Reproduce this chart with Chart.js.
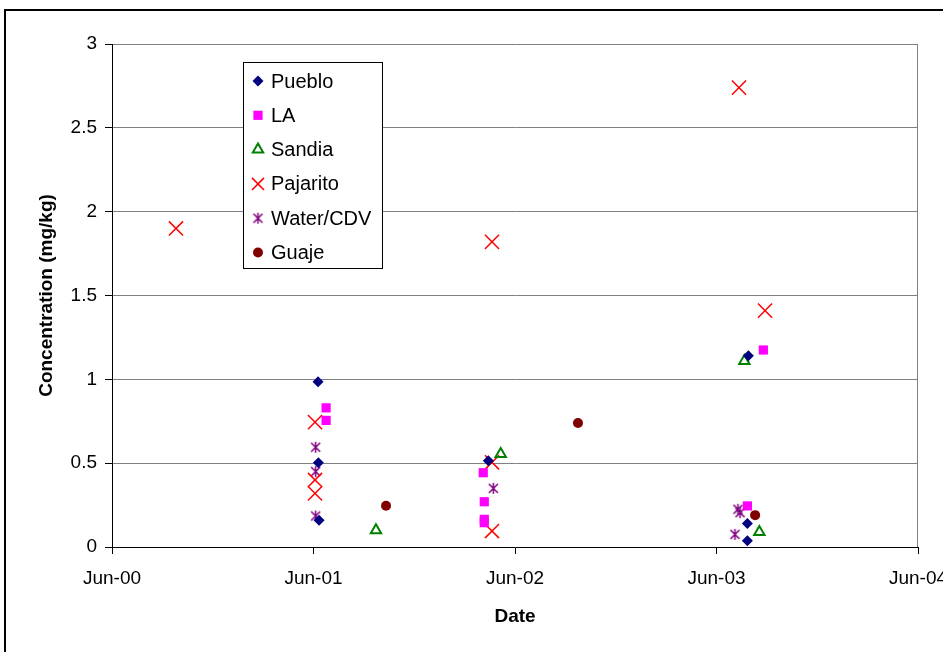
<!DOCTYPE html>
<html lang="en">
<head>
    <meta charset="UTF-8">
    <title>Concentration by Date</title>
    <script src="https://cdn.jsdelivr.net/npm/chart.js"></script>
    <style>
        body { margin: 0; background: #fff; overflow: hidden; }
        .frame { position: absolute; left: 4px; top: 9px; width: 1000px; height: 700px;
                 border-left: 2px solid #000; border-top: 2px solid #000; }
        #concChart { position: absolute; left: 0; top: 0; }
    </style>
</head>
<body>
    <div class="frame"></div>
    <canvas id="concChart" width="943" height="652"></canvas>
    <script>
        // x = months since Jun-2000, y = concentration (mg/kg)
        const tickLabels = ['Jun-00', 'Jun-01', 'Jun-02', 'Jun-03', 'Jun-04'];

        const puebloX = [12.27, 12.29, 12.33, 22.41, 37.9, 37.84, 37.84];
        const puebloY = [0.985, 0.503, 0.16, 0.515, 1.14, 0.14, 0.037];

        const laX = [12.75, 12.75, 22.11, 22.17, 22.17, 22.17, 38.79, 37.84];
        const laY = [0.83, 0.755, 0.443, 0.27, 0.165, 0.145, 1.175, 0.245];

        const sandiaX = [15.72, 23.15, 37.66, 38.55];
        const sandiaY = [0.10, 0.555, 1.11, 0.09];

        const pajaritoX = [3.81, 22.63, 37.34, 38.89, 12.09, 12.09, 12.09, 22.63, 22.63];
        const pajaritoY = [1.90, 1.82, 2.74, 1.41, 0.745, 0.40, 0.32, 0.505, 0.095];

        const waterX = [12.13, 12.13, 12.13, 22.71, 37.28, 37.4, 37.1];
        const waterY = [0.595, 0.45, 0.185, 0.35, 0.225, 0.205, 0.075];

        const guajeX = [16.32, 27.75, 38.3];
        const guajeY = [0.246, 0.74, 0.19];

        const toPoints = (xs, ys) => xs.map((x, i) => ({ x: x, y: ys[i] }));

        // Excel style asterisk: an X with a vertical bar through it
        function asterisk(color) {
            const c = document.createElement('canvas');
            c.width = 13;
            c.height = 13;
            const g = c.getContext('2d');
            g.strokeStyle = color;
            g.lineWidth = 1.5;
            g.beginPath();
            g.moveTo(2, 2); g.lineTo(11, 11);
            g.moveTo(11, 2); g.lineTo(2, 11);
            g.moveTo(6.5, 1); g.lineTo(6.5, 12);
            g.stroke();
            return c;
        }
        const waterMark = asterisk('#800080');

        // legend box drawn inside the plot, like the original
        const boxLegend = {
            id: 'boxLegend',
            afterDraw(chart) {
                const ctx = chart.ctx;
                ctx.save();
                ctx.fillStyle = '#fff';
                ctx.fillRect(243.5, 62.5, 139, 206);
                ctx.strokeStyle = '#000';
                ctx.lineWidth = 1;
                ctx.strokeRect(243.5, 62.5, 139, 206);
                ctx.font = '20px "Liberation Sans", Arial, sans-serif';
                ctx.textBaseline = 'middle';
                chart.data.datasets.forEach((ds, i) => {
                    const y = 81 + i * 34.3;
                    ctx.fillStyle = ds.backgroundColor;
                    ctx.strokeStyle = ds.borderColor;
                    ctx.lineWidth = ds.borderWidth;
                    Chart.helpers.drawPoint(ctx, {
                        pointStyle: ds.pointStyle,
                        radius: ds.legendRadius,
                        rotation: 0,
                        borderWidth: ds.borderWidth
                    }, 258, y);
                    ctx.fillStyle = '#000';
                    ctx.fillText(ds.label, 271, y + 1);
                });
                ctx.restore();
            }
        };

        // gray right edge of the plot area
        const plotEdge = {
            id: 'plotEdge',
            beforeDatasetsDraw(chart) {
                const a = chart.chartArea;
                const ctx = chart.ctx;
                ctx.save();
                ctx.strokeStyle = '#808080';
                ctx.lineWidth = 1;
                ctx.beginPath();
                ctx.moveTo(a.right - 0.5, a.top);
                ctx.lineTo(a.right - 0.5, a.bottom);
                ctx.stroke();
                ctx.restore();
            }
        };

        const tickFont = { family: '"Liberation Sans", Arial, sans-serif', size: 19 };
        const titleFont = { family: '"Liberation Sans", Arial, sans-serif', size: 19, weight: 'bold' };

        new Chart(document.getElementById('concChart'), {
            type: 'scatter',
            data: {
                datasets: [
                    { label: 'Pueblo', data: toPoints(puebloX, puebloY), pointStyle: 'rectRot',
                      pointRadius: 5.5, legendRadius: 5.5, backgroundColor: '#000080', borderColor: '#000080', borderWidth: 0 },
                    { label: 'LA', data: toPoints(laX, laY), pointStyle: 'rect',
                      pointRadius: 6.5, legendRadius: 6.5, backgroundColor: '#ff00ff', borderColor: '#ff00ff', borderWidth: 0 },
                    { label: 'Sandia', data: toPoints(sandiaX, sandiaY), pointStyle: 'triangle',
                      pointRadius: 6, legendRadius: 6, backgroundColor: 'rgba(0,0,0,0)', borderColor: '#008000', borderWidth: 2 },
                    { label: 'Pajarito', data: toPoints(pajaritoX, pajaritoY), pointStyle: 'crossRot',
                      pointRadius: 10, legendRadius: 8.5, backgroundColor: '#ff0000', borderColor: '#ff0000', borderWidth: 1.5 },
                    { label: 'Water/CDV', data: toPoints(waterX, waterY), pointStyle: waterMark,
                      pointRadius: 6, legendRadius: 6, backgroundColor: '#800080', borderColor: '#800080', borderWidth: 0 },
                    { label: 'Guaje', data: toPoints(guajeX, guajeY), pointStyle: 'circle',
                      pointRadius: 5, legendRadius: 5, backgroundColor: '#800000', borderColor: '#800000', borderWidth: 0 }
                ]
            },
            options: {
                responsive: false,
                animation: false,
                layout: { padding: { top: 44, right: 25, left: 0, bottom: 0 } },
                elements: { point: { hoverRadius: 6 } },
                plugins: {
                    legend: { display: false },
                    tooltip: { enabled: false }
                },
                scales: {
                    x: {
                        type: 'linear',
                        min: 0,
                        max: 48,
                        afterFit(scale) {
                            scale.height = 105;
                            // the last label is allowed to run off the page, as in the original
                            scale.paddingRight = 0;
                            scale.paddingLeft = 0;
                        },
                        ticks: {
                            stepSize: 12,
                            color: '#000',
                            font: tickFont,
                            padding: 13,
                            maxRotation: 0,
                            callback: (v) => tickLabels[v / 12]
                        },
                        grid: { drawOnChartArea: false, tickLength: 7, tickColor: '#000' },
                        border: { color: '#000', width: 1 },
                        title: { display: true, text: 'Date', color: '#000', font: titleFont,
                                 padding: { top: 0, bottom: 24 } }
                    },
                    y: {
                        min: 0,
                        max: 3,
                        afterFit(scale) { scale.width = 112; },
                        ticks: {
                            stepSize: 0.5,
                            color: '#000',
                            font: tickFont,
                            padding: 8,
                            callback: (v) => String(v)
                        },
                        grid: {
                            color: (c) => c.tick && c.tick.value === 0 ? 'rgba(0,0,0,0)' : '#808080',
                            tickLength: 7,
                            tickColor: '#000'
                        },
                        border: { color: '#000', width: 1 },
                        title: { display: true, text: 'Concentration (mg/kg)', color: '#000', font: titleFont,
                                 padding: { top: 35, bottom: 0 } }
                    }
                }
            },
            plugins: [plotEdge, boxLegend]
        });
    </script>
</body>
</html>
